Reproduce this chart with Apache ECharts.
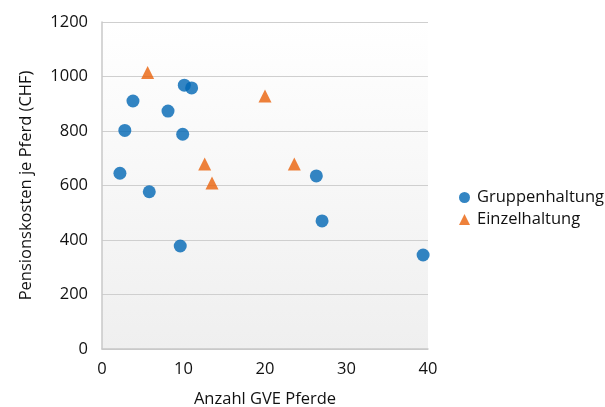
<!DOCTYPE html>
<html><head><meta charset="utf-8">
<script src="https://cdn.jsdelivr.net/npm/echarts@6/dist/echarts.min.js"></script>
<style>html,body{margin:0;padding:0;background:#fff}#c{width:605px;height:407px}</style>
</head><body><div id="c"></div>
<script>
const seriesNames = ['Gruppenhaltung', 'Einzelhaltung'];
const gruppenX = [2.2, 2.8, 3.8, 5.8, 8.1, 10.1, 11.0, 9.9, 9.6, 26.3, 27.0, 39.4];
const gruppenY = [645, 802, 910, 577, 873, 968, 958, 788, 378, 635, 470, 345];
const einzelX = [5.6, 12.6, 13.5, 20.0, 23.6];
const einzelY = [1015, 679, 609, 928, 679];
const xTicks = [0, 10, 20, 30, 40];
const yTicks = [0, 200, 400, 600, 800, 1000, 1200];
const font = 'Open Sans';
const fs = 16.5;
const chart = echarts.init(document.getElementById('c'));
chart.setOption({
  animation: false,
  textStyle: {fontFamily: font},
  grid: {left: 102, right: 177, top: 22, bottom: 58, show: true, borderWidth: 0,
    outerBoundsMode: 'none', containLabel: false,
    backgroundColor: new echarts.graphic.LinearGradient(0, 0, 0, 1, [{offset: 0, color: '#ffffff'}, {offset: 1, color: '#efefef'}])},
  legend: {orient: 'vertical', left: 454, top: 184, itemWidth: 11, itemHeight: 11, itemGap: 5,
    textStyle: {fontFamily: font, fontSize: fs, color: '#111', padding: [0, 0, 0, 2]},
    data: [{name: seriesNames[0], icon: 'circle'}, {name: seriesNames[1], icon: 'triangle'}]},
  xAxis: {type: 'value', min: xTicks[0], max: xTicks[xTicks.length-1], interval: 10,
    name: 'Anzahl GVE Pferde', nameLocation: 'middle', nameGap: 42,
    nameTextStyle: {fontFamily: font, fontSize: fs, color: '#111'},
    axisLine: {show: true, lineStyle: {color: '#c8c8c8', width: 1.5}}, axisTick: {show: false},
    axisLabel: {fontFamily: font, fontSize: fs, color: '#111', margin: 12},
    splitLine: {show: false}},
  yAxis: {type: 'value', min: yTicks[0], max: yTicks[yTicks.length-1], interval: 200,
    name: 'Pensionskosten je Pferd (CHF)', nameLocation: 'middle', nameGap: 67,
    nameTextStyle: {fontFamily: font, fontSize: fs, color: '#111'},
    axisLine: {show: true, lineStyle: {color: '#c8c8c8', width: 1.5}}, axisTick: {show: false},
    axisLabel: {fontFamily: font, fontSize: fs, color: '#111', margin: 14, formatter: v => String(v)},
    splitLine: {show: true, lineStyle: {color: '#cfcfcf', width: 1.2}}},
  series: [
    {name: seriesNames[0], type: 'scatter', symbol: 'circle', symbolSize: 13,
      itemStyle: {color: '#0067b4'}, data: gruppenX.map((x, i) => [x, gruppenY[i]])},
    {name: seriesNames[1], type: 'scatter', symbol: 'triangle', symbolSize: 13,
      itemStyle: {color: '#ea620a'}, data: einzelX.map((x, i) => [x, einzelY[i]])}
  ]
});
</script></body></html>
